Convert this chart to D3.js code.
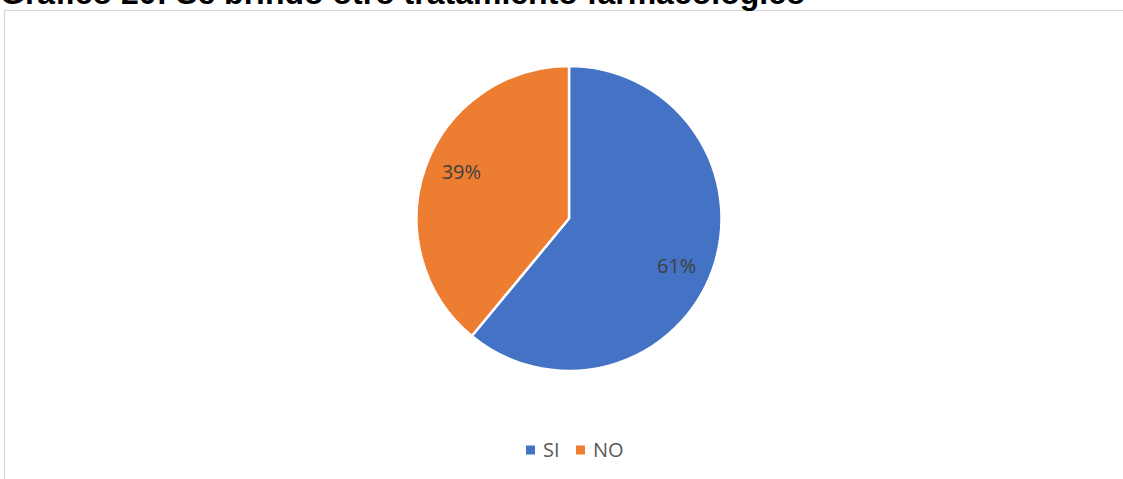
<!DOCTYPE html>
<html>
<head>
<meta charset="utf-8">
<script src="https://cdn.jsdelivr.net/npm/d3@7/dist/d3.min.js"></script>
<style>
  html, body { margin: 0; padding: 0; background: #fff; overflow: hidden; }
  svg { display: block; }
</style>
</head>
<body>
<svg id="chart" width="1123" height="479"></svg>
<script>
// Chart data
const categories = ["SI", "NO"];
const values = [61, 39];
const colors = ["#4472C4", "#ED7D31"];
const title = "Gráfico 20: Se brindo otro tratamiento farmacologico";

const svg = d3.select("#chart");
const W = 1123, H = 479;

// Chart area frame (top and left edges visible)
svg.append("rect")
  .attr("x", 4.5).attr("y", 10.5)
  .attr("width", W + 10).attr("height", H + 10)
  .attr("fill", "#fff")
  .attr("stroke", "#d9d9d9")
  .attr("stroke-width", 1.2);

// Title, partly clipped at the top of the page
svg.append("text")
  .attr("x", 0).attr("y", 4)
  .attr("font-family", "'Liberation Sans', Arial, sans-serif")
  .attr("font-weight", "bold")
  .attr("font-size", 32)
  .attr("fill", "#000")
  .text(title);

// Pie
const cx = 569, cy = 218.5, r = 152.5;
const pie = d3.pie().sort(null).value(d => d.value);
const arcs = pie(categories.map((c, i) => ({ cat: c, value: values[i], color: colors[i] })));
const arc = d3.arc().innerRadius(0).outerRadius(r);

const g = svg.append("g").attr("transform", `translate(${cx},${cy})`);
g.selectAll("path.slice")
  .data(arcs)
  .join("path")
  .attr("class", "slice")
  .attr("d", arc)
  .attr("fill", d => d.data.color)
  .attr("stroke", "#fff")
  .attr("stroke-width", 2.5)
  .attr("stroke-linejoin", "round");

// Percentage labels, placed inside each slice slightly past its mid-angle
const labelR = r * 0.77, labelShift = 0.065;
function labelPos(d) {
  const a = (d.startAngle + d.endAngle) / 2 + labelShift;
  return [Math.sin(a) * labelR, -Math.cos(a) * labelR];
}
g.selectAll("text.lbl")
  .data(arcs)
  .join("text")
  .attr("class", "lbl")
  .attr("transform", d => `translate(${labelPos(d)})`)
  .attr("text-anchor", "middle")
  .attr("dy", "0.36em")
  .attr("font-family", "'Open Sans', 'Noto Sans', sans-serif")
  .attr("font-size", 20)
  .attr("fill", "#404040")
  .text(d => d.data.value + "%");

// Legend
const legend = svg.append("g").attr("transform", "translate(0,450)");
const items = [
  { x: 526, label: categories[0], color: colors[0] },
  { x: 576, label: categories[1], color: colors[1] }
];
items.forEach(it => {
  legend.append("rect")
    .attr("x", it.x).attr("y", -4.5)
    .attr("width", 9).attr("height", 9)
    .attr("fill", it.color);
  legend.append("text")
    .attr("x", it.x + 17).attr("y", 0)
    .attr("dy", "0.36em")
    .attr("font-family", "'Open Sans', 'Noto Sans', sans-serif")
    .attr("font-size", 20)
    .attr("fill", "#595959")
    .text(it.label);
});
</script>
</body>
</html>
